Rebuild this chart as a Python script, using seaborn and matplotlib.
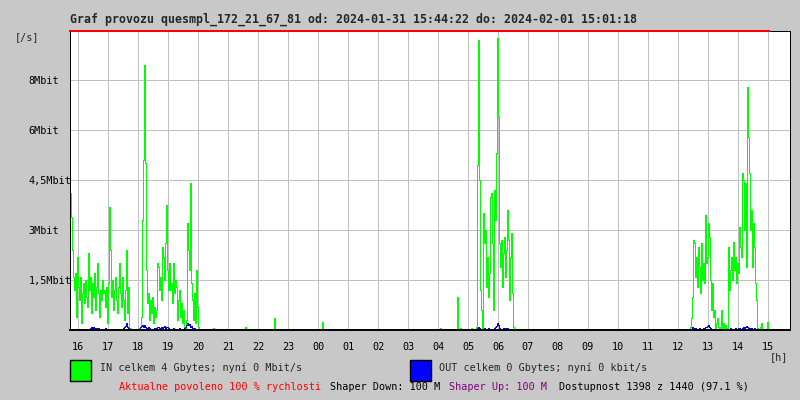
import numpy as np
import pandas as pd
import matplotlib
matplotlib.use("Agg")
import matplotlib.pyplot as plt
from matplotlib.patches import Rectangle
import seaborn as sns

# ---------------- data (Mbit/s, one sample per 2 minutes) ----------------
START_CLOCK = "15:44"          # first sample of the graph
END_CLOCK = "15:01"            # last sample (next day)
STEP_MIN = 2

hour_ticks = list(range(16, 40))
hour_labels = [f"{h % 24:02d}" for h in hour_ticks]
y_ticks = [1.5, 3.0, 4.5, 6.0, 7.5]
y_labels = ["1,5Mbit", "3Mbit", "4,5Mbit", "6Mbit", "8Mbit"]

# afternoon / evening burst starting 15:44
in_burst1_start = "15:44"
in_burst1 = [4.1, 3.4, 2.4, 1.6, 1.2, 1.7, 0.4, 2.2, 1.3, 0.9,
             1.6, 0.2, 1.1, 1.4, 0.8, 1.5, 1.0, 0.7, 2.3, 1.2,
             1.6, 0.5, 1.4, 1.0, 1.7, 0.6, 1.3, 2.0, 1.1, 0.4,
             1.2, 0.9, 1.5, 1.1, 1.2, 0.7, 1.3, 0.2, 1.4, 3.7,
             2.4, 1.0, 1.5, 0.6, 1.2, 1.6, 0.9, 0.5, 1.3, 2.0,
             1.1, 0.7, 1.6, 0.9, 0.3, 1.2, 2.4, 0.5, 1.3, 0.0,
             0.05, 0.0, 0.0, 0.0, 0.0, 0.0, 0.0, 0.0, 0.0, 0.05,
             0.1, 0.4, 3.3, 5.1, 7.95, 5.0, 1.8, 0.8, 1.1, 0.3,
             0.9, 0.5, 1.0, 0.2, 0.7, 0.4, 0.6, 2.0, 1.9, 1.2,
             1.6, 0.9, 2.5, 2.2, 1.5, 2.6, 3.75, 1.8, 1.2, 2.0,
             1.2, 1.4, 0.8, 2.0, 1.1, 1.5, 1.3, 0.3, 0.9, 1.2,
             0.4, 0.8, 0.2, 0.6, 0.1, 0.0, 0.3, 3.2, 2.4, 1.8,
             4.4, 1.4, 0.9, 0.3, 1.1, 0.2, 1.8, 0.7, 0.1, 0.0]
out_burst1 = [0.02, 0.03, 0.02, 0.0, 0.0, 0.0, 0.0, 0.0, 0.0, 0.0,
              0.0, 0.0, 0.0, 0.0, 0.0, 0.0, 0.0, 0.02, 0.03, 0.02,
              0.06, 0.08, 0.05, 0.09, 0.04, 0.06, 0.02, 0.05, 0.07, 0.03,
              0.02, 0.0, 0.0, 0.0, 0.02, 0.05, 0.03, 0.02, 0.04, 0.03,
              0.02, 0.0, 0.0, 0.0, 0.0, 0.0, 0.0, 0.0, 0.0, 0.02,
              0.03, 0.02, 0.04, 0.05, 0.08, 0.12, 0.2, 0.1, 0.05, 0.02,
              0.0, 0.0, 0.0, 0.0, 0.0, 0.0, 0.0, 0.0, 0.0, 0.02,
              0.08, 0.12, 0.15, 0.1, 0.14, 0.09, 0.06, 0.04, 0.08, 0.05,
              0.03, 0.02, 0.04, 0.02, 0.05, 0.06, 0.03, 0.08, 0.1, 0.07,
              0.06, 0.09, 0.05, 0.08, 0.11, 0.06, 0.1, 0.08, 0.05, 0.03,
              0.02, 0.04, 0.03, 0.05, 0.02, 0.03, 0.04, 0.02, 0.03, 0.05,
              0.04, 0.03, 0.02, 0.03, 0.06, 0.1, 0.15, 0.2, 0.14, 0.18,
              0.1, 0.12, 0.06, 0.04, 0.05, 0.03, 0.04, 0.03, 0.02, 0.0]

# early morning burst starting 05:06
in_burst2_start = "05:06"
in_burst2 = [0.05, 0.0, 0.0, 0.0, 0.0, 0.1, 4.95, 8.7, 4.5, 1.2,
             0.6, 0.0, 3.5, 2.6, 3.0, 1.3, 2.2, 1.0, 1.7, 4.0,
             4.1, 2.6, 0.6, 4.2, 3.3, 5.3, 8.75, 6.4, 2.6, 1.9,
             2.7, 1.3, 2.3, 2.8, 1.6, 2.4, 3.6, 2.7, 0.9, 2.2,
             2.9, 1.1, 0.1]
out_burst2 = [0.0, 0.0, 0.0, 0.0, 0.0, 0.03, 0.05, 0.1, 0.06, 0.04,
              0.02, 0.0, 0.04, 0.05, 0.03, 0.04, 0.02, 0.05, 0.03, 0.04,
              0.03, 0.02, 0.0, 0.05, 0.08, 0.12, 0.2, 0.15, 0.06, 0.04,
              0.03, 0.02, 0.05, 0.04, 0.06, 0.03, 0.05, 0.04, 0.02, 0.03,
              0.04, 0.02, 0.0]

# midday burst starting 12:24
in_burst3_start = "12:24"
in_burst3 = [0.1, 0.35, 1.0, 2.7, 2.6, 1.6, 2.2, 1.3, 2.5, 1.9,
             1.1, 2.6, 1.5, 2.0, 1.4, 3.45, 2.0, 2.2, 3.2, 2.8,
             1.5, 0.6, 1.4, 0.4, 0.6, 0.05, 0.2, 0.35, 0.1, 0.0,
             0.1, 0.6, 0.05, 0.2, 0.0, 0.15, 0.05, 0.0, 2.5, 1.2,
             1.8, 2.2, 1.5, 2.65, 1.8, 2.2, 1.4, 2.0, 1.7, 3.1,
             2.5, 2.2, 4.7, 4.5, 3.0, 4.4, 1.9, 7.3, 5.8, 4.7,
             3.0, 3.6, 1.9, 3.2, 2.5, 1.4, 0.9, 0.05, 0.0, 0.0,
             0.1, 0.2, 0.0, 0.0, 0.0, 0.0, 0.0, 0.25, 0.0]
out_burst3 = [0.0, 0.03, 0.08, 0.06, 0.04, 0.05, 0.03, 0.02, 0.04, 0.05,
              0.03, 0.04, 0.02, 0.05, 0.06, 0.08, 0.1, 0.12, 0.15, 0.08,
              0.05, 0.04, 0.03, 0.04, 0.02, 0.03, 0.02, 0.03, 0.04, 0.02,
              0.02, 0.0, 0.0, 0.0, 0.0, 0.0, 0.0, 0.0, 0.04, 0.03,
              0.05, 0.03, 0.04, 0.02, 0.03, 0.05, 0.03, 0.04, 0.06, 0.05,
              0.04, 0.03, 0.06, 0.08, 0.05, 0.1, 0.12, 0.09, 0.06, 0.05,
              0.04, 0.05, 0.03, 0.04, 0.05, 0.03, 0.02, 0.0, 0.0, 0.0,
              0.0, 0.0, 0.0, 0.0, 0.0, 0.0, 0.0, 0.0, 0.0]

# isolated short spikes of IN traffic
spike_clock = ["20:30", "21:34", "22:32", "00:08", "04:04", "04:38", "04:44"]
spike_in = [0.05, 0.1, 0.35, 0.25, 0.05, 1.0, 0.05]

# ---------------- build the time series ----------------
def clock_min(c):
    h, m = map(int, c.split(":"))
    return h * 60 + m

t0 = clock_min(START_CLOCK)
n_samples = ((clock_min(END_CLOCK) - t0) % 1440) // STEP_MIN + 1

def idx(c):
    return ((clock_min(c) - t0) % 1440) // STEP_MIN

in_vals = np.zeros(n_samples)
out_vals = np.zeros(n_samples)
for start, iv, ov in [(in_burst1_start, in_burst1, out_burst1),
                      (in_burst2_start, in_burst2, out_burst2),
                      (in_burst3_start, in_burst3, out_burst3)]:
    i0 = idx(start)
    in_vals[i0:i0 + len(iv)] = iv
    out_vals[i0:i0 + len(ov)] = ov
for c, v in zip(spike_clock, spike_in):
    in_vals[idx(c)] = v

hours = t0 / 60 + np.arange(n_samples) * STEP_MIN / 60
df = pd.concat([
    pd.DataFrame({"hour": hours, "rate": in_vals, "dir": "IN"}),
    pd.DataFrame({"hour": hours, "rate": out_vals, "dir": "OUT"}),
])

# ---------------- figure ----------------
sns.set_style("white")
plt.rcParams["font.family"] = ["DejaVu Sans Mono"]

BG = "#c8c8c8"
PX = 0.72  # one pixel in points at 100 dpi
fig = plt.figure(figsize=(8, 4), dpi=100, facecolor=BG)
ax = fig.add_axes([70 / 800, 70 / 400, 720 / 800, 299 / 400])
ax.set_facecolor("white")

x_lo = t0 / 60
x_hi = x_lo + 24
y_hi = 299 / 50 * 1.5
ax.set_xlim(x_lo, x_hi)
ax.set_ylim(0, y_hi)

for h in hour_ticks:
    ax.axvline(h, color="#c0c0c0", lw=PX, zorder=0, antialiased=False)
for y in y_ticks:
    ax.axhline(y, color="#c0c0c0", lw=PX, zorder=0, antialiased=False)

sns.lineplot(data=df, x="hour", y="rate", hue="dir",
             palette={"IN": "#00ff00", "OUT": "#0000ff"},
             estimator=None, drawstyle="steps-post", lw=PX,
             antialiased=False, snap=True, legend=False, ax=ax, zorder=2)

# red max line along the top over the data range
ax.axhline(y_hi, xmin=0, xmax=(hours[-1] + STEP_MIN / 60 - x_lo) / 24,
           color="#ff0000", lw=1.4, zorder=5, clip_on=False, antialiased=False)

for s in ax.spines.values():
    s.set_visible(True)
    s.set_color("black")
    s.set_linewidth(PX)
    s.set_zorder(4)
ax.spines["bottom"].set_linewidth(1.4)

ax.set_xticks(hour_ticks, hour_labels)
ax.set_yticks(y_ticks, y_labels)
ax.tick_params(axis="x", length=0, pad=9, labelsize=7.3, colors="black")
ax.tick_params(axis="y", length=2, width=1, pad=28, labelsize=7.3, colors="black")
for lbl in ax.get_yticklabels():
    lbl.set_ha("left")
ax.set_xlabel("")
ax.set_ylabel("")

def ftext(x, y, s, **kw):
    kw.setdefault("fontsize", 7.3)
    kw.setdefault("va", "center")
    fig.text(x / 800, 1 - y / 400, s, **kw)

ftext(70, 19, "Graf provozu quesmpl_172_21_67_81 od: 2024-01-31 15:44:22 do: 2024-02-01 15:01:18",
      fontsize=8.4, fontweight="bold")
ftext(15, 37, "[/s]")
ftext(770, 357, "[h]")

fig.add_artist(Rectangle((70 / 800, 1 - 381 / 400), 21 / 800, 21 / 400,
                         transform=fig.transFigure, fc="#00ff00", ec="black", lw=1))
fig.add_artist(Rectangle((410 / 800, 1 - 381 / 400), 21 / 800, 21 / 400,
                         transform=fig.transFigure, fc="#0000ff", ec="black", lw=1))
ftext(100, 368, "IN celkem 4 Gbytes; nyní 0 Mbit/s")
ftext(439, 368, "OUT celkem 0 Gbytes; nyní 0 kbit/s")

ftext(119, 387, "Aktualne povoleno 100 % rychlosti", color="#ff0000")
ftext(330, 387, "Shaper Down: 100 M", color="black")
ftext(449, 387, "Shaper Up: 100 M", color="#800080")
ftext(559, 387, "Dostupnost 1398 z 1440 (97.1 %)", color="black")

fig.savefig("out.png", dpi=100, facecolor=BG)
